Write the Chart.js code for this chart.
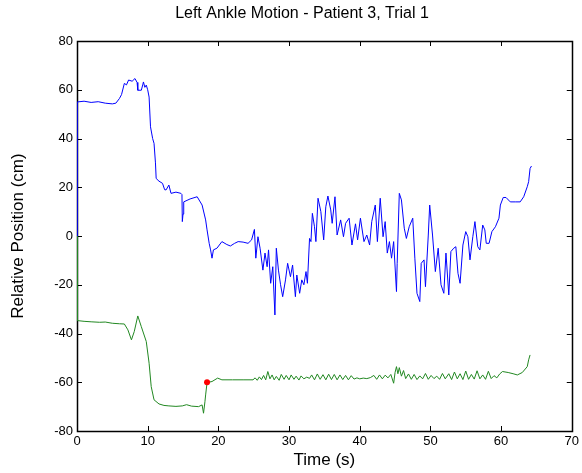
<!DOCTYPE html>
<html>
<head>
<meta charset="utf-8">
<script src="https://cdn.jsdelivr.net/npm/chart.js@4/dist/chart.umd.min.js"></script>
<style>
  html, body { margin: 0; padding: 0; background: #fff; }
  #wrap { width: 582px; height: 473px; }
</style>
</head>
<body>
<div id="wrap"><canvas id="c" width="582" height="473"></canvas></div>
<script>
// ---- Data ----
const blueTime = [0, 0.05, 1, 2, 3, 4, 5, 5.5, 6.0, 6.3, 6.7, 7.0, 7.3, 7.8, 8.2, 8.5, 8.6, 9.1, 9.3, 9.4, 9.6, 9.8, 10.0, 10.2, 10.4, 10.7, 10.9, 11.1, 11.2, 11.6, 12.1, 12.4, 12.6, 13.0, 13.3, 14.0, 14.7, 14.85, 14.9, 15.0, 15.1, 16.0, 17.0, 17.7, 18.2, 18.4, 18.7, 18.9, 19.1, 19.3, 19.8, 20.5, 21.2, 21.7, 22.3, 22.8, 23.5, 24.2, 24.7, 25.1, 25.3, 25.6, 25.9, 26.3, 26.6, 26.9, 27.1, 27.4, 27.7, 28.0, 28.2, 28.5, 28.8, 29.1, 29.5, 29.8, 30.2, 30.5, 30.9, 31.1, 31.5, 31.8, 32.1, 32.4, 32.6, 32.9, 33.1, 33.3, 33.6, 33.8, 34.1, 34.5, 34.9, 35.2, 35.5, 35.9, 36.1, 36.5, 36.8, 37.3, 37.7, 38.0, 38.5, 38.9, 39.4, 39.7, 40.1, 40.6, 41.0, 41.4, 41.7, 42.2, 42.5, 42.9, 43.3, 43.6, 43.9, 44.2, 44.5, 44.8, 45.2, 45.3, 45.6, 45.9, 46.3, 46.6, 47.0, 47.5, 47.8, 48.1, 48.5, 48.7, 49.1, 49.3, 49.7, 49.9, 50.3, 50.7, 51.1, 51.5, 51.9, 52.2, 52.6, 52.9, 53.3, 53.6, 53.9, 54.2, 54.6, 55.0, 55.3, 55.6, 56.0, 56.3, 56.7, 57.0, 57.4, 57.7, 57.9, 58.3, 58.7, 59.2, 59.7, 59.9, 60.3, 60.7, 61.3, 62.0, 62.7, 63.2, 63.7, 63.9, 64.1, 64.3];
const bluePos = [0, 55, 55.3, 54.8, 55.1, 54.5, 54.2, 54.5, 56.4, 58, 62.6, 62, 64, 63.5, 64.6, 63, 59.8, 59.8, 62, 63.2, 61, 61.9, 60, 57, 44.8, 40, 38, 30, 23.6, 22.5, 21.6, 19, 18.9, 20.9, 17.5, 18, 17.5, 17, 5.9, 9, 14, 15.2, 16.1, 12.7, 6.6, 2.5, -3, -5.7, -9.1, -5.7, -5, -2.3, -3.5, -4.1, -3, -2.3, -2.5, -3, -1.6, 2.7, -9.1, -0.3, -5, -14, -7, -12.6, -5.7, -19.4, -12.6, -32.4, -5, -14, -20, -24.9, -18, -11.2, -16.7, -11.9, -24.9, -16, -23.5, -18, -20, -14.6, -19.4, -1, -2.3, 9.3, 3.8, -2.3, 15.5, 10, -1.6, 12, 16.4, 10.7, 5.2, 16.1, 0.4, 6.6, -0.3, 5.2, 7.3, -3.7, 5, -1.6, 7.3, -2.3, 0.4, -3.7, 5.9, 12.7, -2.3, 15.5, -0.3, 5.9, -7, -2.3, -9.1, -2.3, -22.8, -11.2, 17.5, 14.8, 3.2, -1, 3.8, 7.3, -9.1, -23.5, -26.9, -11.2, -9.8, -20.8, 0.4, 12.7, 0.4, -14.6, -5, -20, -23.5, -7, -24.2, -6.4, -5, -4.4, -15.3, -19.4, -3.7, 1.8, -0.3, -9.8, -0.3, 5.9, -4.4, -5.7, 4.5, 2.5, -3, -3, 1.8, 3.8, 7.3, 12.7, 15.8, 15.8, 14, 14, 14, 16.1, 20.2, 22.3, 27.7, 28.7];

const greenTime = [0, 0.05, 1, 2, 3.2, 4, 5, 6, 6.7, 7.2, 7.7, 8.1, 8.6, 9.1, 9.8, 10.2, 10.5, 10.9, 11.6, 12.3, 13.0, 14.0, 14.9, 15.5, 16.2, 17.2, 17.7, 17.9, 18.1, 18.2, 18.4, 19.1, 19.9, 20.5, 22, 23.5, 24.9, 25.2, 25.5, 25.8, 26.1, 26.4, 26.7, 27.0, 27.3, 27.6, 27.9, 28.2, 28.6, 28.9, 29.3, 29.6, 30.0, 30.3, 30.7, 31.0, 31.4, 31.7, 32.1, 32.5, 32.9, 33.2, 33.6, 34.0, 34.4, 34.8, 35.2, 35.6, 36.0, 36.4, 36.8, 37.2, 37.6, 38.0, 38.4, 38.8, 39.2, 39.6, 40.0, 40.5, 41.0, 41.5, 42.0, 42.4, 42.8, 43.2, 43.6, 44.0, 44.4, 44.8, 45.0, 45.2, 45.4, 45.6, 45.9, 46.2, 46.5, 46.9, 47.3, 47.7, 48.1, 48.5, 48.9, 49.3, 49.7, 50.1, 50.5, 50.9, 51.3, 51.7, 52.1, 52.6, 53.0, 53.4, 53.8, 54.2, 54.6, 55.0, 55.4, 55.8, 56.2, 56.6, 57.0, 57.4, 57.8, 58.2, 58.6, 59.0, 59.4, 59.8, 60.2, 61.0, 61.7, 62.3, 63.0, 63.7, 63.9, 64.1];
const greenPos = [0, -34.7, -35, -35.2, -35.4, -35.3, -35.8, -36, -36.1, -38.5, -42.6, -39.2, -32.8, -37.2, -43.3, -52.2, -61.8, -67.2, -68.9, -69.5, -69.7, -69.9, -69.7, -69.2, -69.8, -70, -69.3, -72.7, -68, -65.2, -60.1, -59.7, -58.3, -59, -59, -59, -59, -58.2, -59.2, -57.8, -58.9, -57.2, -59, -55.6, -58.6, -57, -59, -57.6, -59.2, -56.8, -58.8, -57.2, -59, -57, -58.8, -57.5, -59.1, -57.4, -58.6, -57.9, -58.4, -57, -59, -56.6, -58.8, -56.9, -59, -56.7, -58.9, -56.8, -59, -57, -58.9, -57.2, -59, -57.3, -58.7, -58.2, -58.6, -58.3, -58.5, -58.1, -57.2, -58.8, -57, -58.6, -57.1, -58.2, -56.8, -60.4, -56, -53.6, -56.5, -54, -57.5, -55.2, -58.5, -56.6, -58.8, -56.8, -58.9, -57.4, -58.6, -56.4, -58.8, -57.2, -58.5, -57.5, -58.8, -56.4, -58.6, -56.5, -58.9, -55.8, -58.6, -56.5, -58.9, -55.4, -58.8, -56.8, -58.7, -55.3, -58.6, -57, -58.8, -55.5, -58.5, -57.3, -58.2, -56.6, -55.6, -56, -56.5, -57, -56, -53.6, -50.8, -48.8];

const markerTime = [18.4];
const markerPos = [-60];

const xTicks = [0, 10, 20, 30, 40, 50, 60, 70];
const yTicks = [-80, -60, -40, -20, 0, 20, 40, 60, 80];

const titleText = 'Left Ankle Motion - Patient 3, Trial 1';
const xTitle = 'Time (s)';
const yTitle = 'Relative Position (cm)';

// ---- Build ----
const toPts = (xs, ys) => xs.map((x, i) => ({ x: x, y: ys[i] }));
const FONT = "'Liberation Sans', Arial, Helvetica, sans-serif";

const boxPlugin = {
  id: 'matlabBox',
  beforeDatasetsDraw(chart) {
    const { ctx, chartArea: a, scales } = chart;
    const tl = 5;
    ctx.save();
    ctx.strokeStyle = '#000';
    ctx.lineWidth = 1;
    ctx.beginPath();
    xTicks.forEach(v => {
      const px = Math.round(scales.x.getPixelForValue(v)) + 0.5;
      ctx.moveTo(px, a.bottom); ctx.lineTo(px, a.bottom - tl);
      ctx.moveTo(px, a.top); ctx.lineTo(px, a.top + tl);
    });
    yTicks.forEach(v => {
      const py = Math.round(scales.y.getPixelForValue(v)) + 0.5;
      ctx.moveTo(a.left, py); ctx.lineTo(a.left + tl, py);
      ctx.moveTo(a.right, py); ctx.lineTo(a.right - tl, py);
    });
    ctx.stroke();
    ctx.lineWidth = 1.5;
    ctx.strokeRect(Math.round(a.left) + 0.5, Math.round(a.top) + 0.5,
                   Math.round(a.right - a.left), Math.round(a.bottom - a.top));
    // title
    ctx.fillStyle = '#000';
    ctx.font = "16px " + FONT;
    ctx.textAlign = 'center';
    ctx.textBaseline = 'middle';
    ctx.fillText(titleText, 302, 14);
    ctx.restore();
  }
};

new Chart(document.getElementById('c'), {
  type: 'scatter',
  data: {
    datasets: [
      {
        data: toPts(blueTime, bluePos),
        showLine: true, borderColor: '#0000ff', borderWidth: 1,
        pointRadius: 0, tension: 0, order: 2
      },
      {
        data: toPts(greenTime, greenPos),
        showLine: true, borderColor: '#228822', borderWidth: 1,
        pointRadius: 0, tension: 0, order: 2
      },
      {
        data: toPts(markerTime, markerPos),
        showLine: false, pointRadius: 3, pointBackgroundColor: '#ff0000',
        pointBorderColor: '#ff0000', pointBorderWidth: 0, order: 1
      }
    ]
  },
  options: {
    responsive: false,
    animation: false,
    layout: { padding: { left: 0, right: 6, top: 41, bottom: 0 } },
    plugins: {
      legend: { display: false },
      tooltip: { enabled: false },
      title: { display: false }
    },
    scales: {
      x: {
        type: 'linear', min: 0, max: 70,
        afterFit: s => { s.height = 42; },
        afterBuildTicks: s => { s.ticks = xTicks.map(v => ({ value: v })); },
        grid: { display: false, drawTicks: false },
        border: { display: false },
        ticks: { color: '#000', padding: 3, maxRotation: 0, autoSkip: false,
                 font: { family: FONT, size: 13 } },
        title: { display: true, text: xTitle, color: '#000',
                 font: { family: FONT, size: 17, lineHeight: 1.2 },
                 padding: { top: 0, bottom: 2.5 } }
      },
      y: {
        type: 'linear', min: -80, max: 80,
        afterFit: s => { s.width = 77; },
        afterBuildTicks: s => { s.ticks = yTicks.map(v => ({ value: v })); },
        grid: { display: false, drawTicks: false },
        border: { display: false },
        ticks: { color: '#000', padding: 4, autoSkip: false,
                 font: { family: FONT, size: 13 } },
        title: { display: true, text: yTitle, color: '#000',
                 font: { family: FONT, size: 17, lineHeight: 1.2 },
                 padding: { top: 8, bottom: 0 } }
      }
    }
  },
  plugins: [boxPlugin]
});
</script>
</body>
</html>
